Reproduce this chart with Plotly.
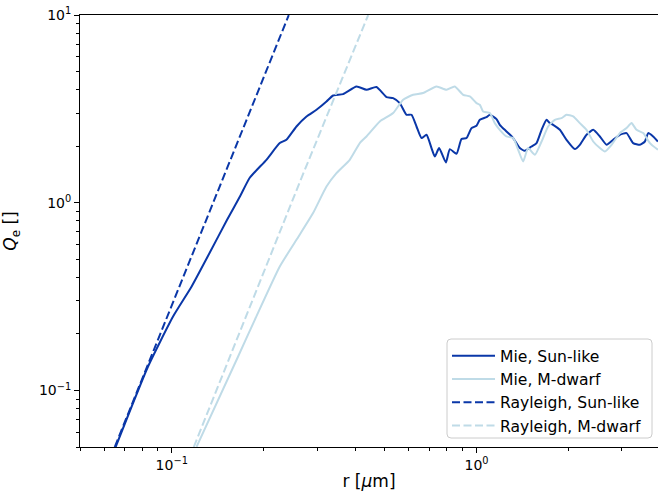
import math
import plotly.graph_objects as go

# ---------------- data ----------------
r_mie_sun = [0.06548, 0.0836, 0.1010, 0.1162, 0.1332, 0.1519, 0.1679, 0.1803,
             0.2045, 0.2262, 0.2378, 0.2566, 0.2768, 0.2985, 0.3219, 0.3384, 0.3650, 0.4039,
             0.4355, 0.4697, 0.5066, 0.5326, 0.5602, 0.5893, 0.6119, 0.6355, 0.6600, 0.6854,
             0.7117, 0.7298, 0.7539, 0.7932, 0.8175, 0.8598, 0.8929, 0.9273, 0.9630, 1.000,
             1.0254, 1.0785, 1.106, 1.163, 1.192, 1.254, 1.319, 1.387, 1.440, 1.515,
             1.574, 1.635, 1.697, 1.740, 1.784, 1.877, 1.974, 2.102, 2.183, 2.296,
             2.415, 2.540, 2.672, 2.808, 2.953, 3.107, 3.266, 3.436, 3.568, 3.658,
             3.798, 3.936]
q_mie_sun = [0.0501, 0.1342, 0.2478, 0.358, 0.5415, 0.812, 1.090, 1.359,
             1.695, 2.080, 2.166, 2.550, 2.883, 3.130, 3.465, 3.730, 3.795, 4.165,
             4.001, 4.135, 3.658, 3.613, 3.398, 2.944, 2.944, 2.550, 2.212, 2.303,
             1.956, 1.765, 1.956, 1.640, 1.932, 1.824, 2.185, 2.212, 2.500, 2.572,
             2.768, 2.861, 2.944, 2.793, 2.604, 2.399, 2.212, 1.956, 1.892, 1.995,
             2.080, 2.448, 2.768, 2.658, 2.604, 2.448, 2.166, 1.932, 2.037, 2.303,
             2.448, 2.256, 2.037, 2.166, 2.303, 2.351, 2.080, 2.037, 2.121, 2.351,
             2.256, 2.121]

r_mie_md = [0.1206, 0.1651, 0.1873, 0.2262, 0.2566, 0.2909, 0.3219, 0.3471, 0.3838, 0.4140,
            0.4355, 0.4816, 0.5326, 0.5743, 0.6194, 0.6681, 0.7391, 0.7973, 0.8487, 0.9040,
            0.9506, 1.000, 1.0254, 1.051, 1.106, 1.148, 1.192, 1.254, 1.319, 1.370,
            1.422, 1.477, 1.554, 1.635, 1.718, 1.807, 1.901, 1.974, 2.076, 2.183,
            2.296, 2.415, 2.540, 2.637, 2.774, 2.953, 3.107, 3.226, 3.350, 3.523,
            3.706, 3.936]
q_mie_md = [0.0501, 0.1518, 0.2379, 0.4576, 0.635, 0.8813, 1.221, 1.439, 1.695, 2.080,
            2.256, 2.712, 3.006, 3.539, 3.763, 3.842, 4.165, 4.001, 4.165, 3.763,
            3.685, 3.398, 3.328, 3.065, 3.006, 2.658, 2.448, 2.256, 2.212, 1.916,
            1.660, 1.956, 1.802, 2.121, 2.550, 2.768, 2.827, 2.944, 2.883, 2.658,
            2.448, 2.121, 1.956, 1.876, 2.037, 2.351, 2.500, 2.658, 2.448, 2.351,
            2.080, 1.916]

r_ray_sun = [0.0650, 0.1300, 0.2421]
q_ray_sun = [0.050, 0.812, 10.0]

r_ray_md = [0.1181, 0.2666, 0.4412]
q_ray_md = [0.050, 1.359, 10.0]

x_tickvals = [0.1, 1.0]
x_ticktext = ["10<sup>\u22121</sup>", "10<sup>0</sup>"]
y_tickvals = [0.1, 1.0, 10.0]
y_ticktext = ["10<sup>\u22121</sup>", "10<sup>0</sup>", "10<sup>1</sup>"]

x_minor = [0.05, 0.06, 0.07, 0.08, 0.09, 0.2, 0.3, 0.4, 0.5, 0.6, 0.7, 0.8, 0.9, 2, 3]
y_minor = [0.05, 0.06, 0.07, 0.08, 0.09, 0.2, 0.3, 0.4, 0.5, 0.6, 0.7, 0.8, 0.9,
           2, 3, 4, 5, 6, 7, 8, 9]

DARK = "#0a37a8"
LIGHT = "#bfdbe7"
DASH = "8px,3.5px"

W, H = 658, 502
ML, MR, MT, MB = 80, 0, 15, 55
PW, PH = W - ML - MR, H - MT - MB


def px_x(p):
    return (p - ML) / PW


def px_y(p):
    return (H - MB - p) / PH


fig = go.Figure()
fig.add_trace(go.Scatter(x=r_mie_sun, y=q_mie_sun, mode="lines", name="Mie, Sun-like",
                         line=dict(color=DARK, width=2, shape="spline", smoothing=0.5)))
fig.add_trace(go.Scatter(x=r_mie_md, y=q_mie_md, mode="lines", name="Mie, M-dwarf",
                         line=dict(color=LIGHT, width=2, shape="spline", smoothing=0.5)))
fig.add_trace(go.Scatter(x=r_ray_sun, y=q_ray_sun, mode="lines", name="Rayleigh, Sun-like",
                         line=dict(color=DARK, width=2, dash=DASH)))
fig.add_trace(go.Scatter(x=r_ray_md, y=q_ray_md, mode="lines", name="Rayleigh, M-dwarf",
                         line=dict(color=LIGHT, width=2, dash=DASH)))

# rounded legend frame (matplotlib style)
x0, x1 = px_x(447), px_x(652)
y0, y1 = px_y(438), px_y(339)
rx, ry = 4 / PW, 4 / PH
frame = (f"M {x0+rx},{y0} L {x1-rx},{y0} Q {x1},{y0} {x1},{y0+ry} "
         f"L {x1},{y1-ry} Q {x1},{y1} {x1-rx},{y1} L {x0+rx},{y1} "
         f"Q {x0},{y1} {x0},{y1-ry} L {x0},{y0+ry} Q {x0},{y0} {x0+rx},{y0} Z")

fig.update_layout(
    width=W, height=H,
    margin=dict(l=ML, r=MR, t=MT, b=MB),
    paper_bgcolor="white", plot_bgcolor="white",
    font=dict(family="DejaVu Sans", size=14, color="black"),
    showlegend=True,
    shapes=[dict(type="path", xref="paper", yref="paper", path=frame,
                 fillcolor="rgba(255,255,255,0.8)", line=dict(color="#cccccc", width=1),
                 layer="above")],
    legend=dict(x=px_x(447), y=px_y(339), xanchor="left", yanchor="top",
                bgcolor="rgba(0,0,0,0)", borderwidth=0,
                font=dict(size=15.6), itemwidth=43),
    xaxis=dict(type="log", range=[math.log10(0.05), math.log10(3.94)],
               showline=True, linecolor="black", linewidth=1, mirror=True,
               showgrid=False, zeroline=False,
               ticks="outside", ticklen=5, tickwidth=1, tickcolor="black",
               tickmode="array", tickvals=x_tickvals, ticktext=x_ticktext,
               minor=dict(tickmode="array", tickvals=x_minor, ticks="outside",
                          ticklen=3, tickwidth=0.8, tickcolor="black", showgrid=False),
               title=dict(text="r [<i>\u03bc</i>m]", standoff=3)),
    yaxis=dict(type="log", range=[math.log10(0.05), 1.0005],
               showline=True, linecolor="black", linewidth=1, mirror=False,
               showgrid=False, zeroline=False, ticklabeloverflow="allow",
               ticks="outside", ticklen=5, tickwidth=1, tickcolor="black",
               tickmode="array", tickvals=y_tickvals, ticktext=y_ticktext,
               minor=dict(tickmode="array", tickvals=y_minor, ticks="outside",
                          ticklen=3, tickwidth=0.8, tickcolor="black", showgrid=False),
               title=dict(text="<i>Q</i><sub>e</sub> []", standoff=18)),
)

fig.write_html("out.html", config={"displayModeBar": False},
               post_script="document.body.style.margin='0';")
